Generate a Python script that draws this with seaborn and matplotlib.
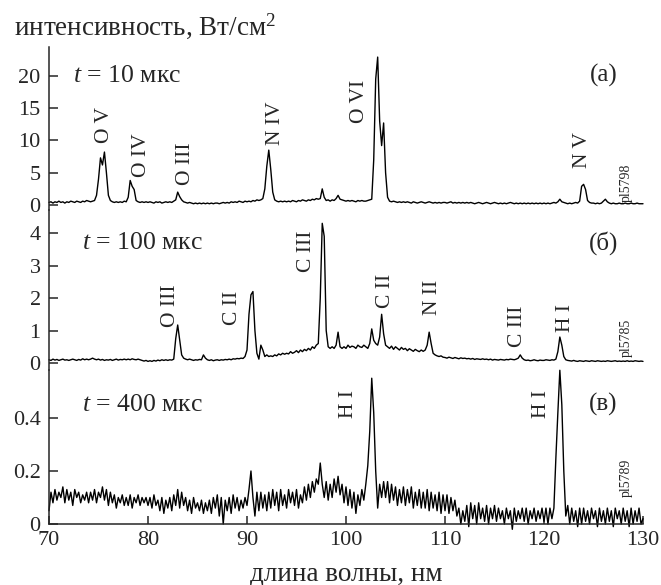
import numpy as np
import pandas as pd
import matplotlib
matplotlib.use("Agg")
import matplotlib.pyplot as plt
import seaborn as sns

# длины волн, шаг 0.2 нм
wl = np.round(np.arange(70.0, 130.01, 0.2), 1)

# t = 10 мкс
int_a = [
    0.4, 0.5, 0.3, 0.5, 0.4, 0.6, 0.4, 0.5, 0.3, 0.5,
    0.4, 0.6, 0.5, 0.4, 0.6, 0.5, 0.4, 0.6, 0.5, 0.7,
    0.6, 0.5, 0.6, 0.7, 1.5, 4.0, 7.3, 6.2, 8.2, 5.0,
    1.5, 0.7, 0.5, 0.4, 0.5, 0.4, 0.5, 0.4, 0.6, 0.5,
    1.2, 3.8, 2.9, 2.4, 0.7, 0.5, 0.4, 0.5, 0.4, 0.5,
    0.4, 0.5, 0.4, 0.3, 0.5, 0.4, 0.5, 0.3, 0.4, 0.5,
    0.4, 0.5, 0.4, 0.6, 0.8, 2.0, 1.3, 0.8, 0.5, 0.4,
    0.3, 0.4, 0.3, 0.2, 0.3, 0.2, 0.3, 0.2, 0.3, 0.2,
    0.3, 0.2, 0.3, 0.2, 0.3, 0.3, 0.2, 0.3, 0.4, 0.3,
    0.4, 0.3, 0.5, 0.4, 0.5, 0.4, 0.6, 0.5, 0.4, 0.6,
    0.5, 0.6, 0.5, 0.7, 0.6, 0.8, 0.7, 0.8, 1.0, 2.5,
    6.0, 8.5, 5.5, 2.0, 0.8, 0.6, 0.5, 0.6, 0.5, 0.6,
    0.5, 0.6, 0.5, 0.7, 0.6, 0.5, 0.7, 0.6, 0.8, 0.7,
    0.6, 0.8, 0.7, 0.9, 0.8, 1.0, 0.9, 1.0, 2.5, 1.2,
    0.7, 0.8, 0.6, 0.8, 0.7, 1.0, 1.5, 0.9, 0.8, 0.7,
    0.6, 0.7, 0.6, 0.7, 0.6, 0.5, 0.7, 0.6, 0.7, 0.6,
    0.6, 0.7, 0.8, 0.9, 7.0, 19.5, 22.9, 13.0, 9.2, 12.7,
    5.0, 1.2, 0.6, 0.5, 0.6, 0.5, 0.4, 0.5, 0.4, 0.5,
    0.4, 0.5, 0.4, 0.3, 0.5, 0.4, 0.3, 0.4, 0.5, 0.4,
    0.3, 0.4, 0.5, 0.4, 0.3, 0.4, 0.3, 0.4, 0.3, 0.4,
    0.4, 0.3, 0.4, 0.5, 0.3, 0.4, 0.3, 0.4, 0.3, 0.4,
    0.3, 0.4, 0.3, 0.4, 0.3, 0.2, 0.3, 0.4, 0.3, 0.2,
    0.3, 0.4, 0.3, 0.2, 0.3, 0.4, 0.3, 0.2, 0.3, 0.2,
    0.3, 0.2, 0.3, 0.4, 0.3, 0.2, 0.3, 0.2, 0.3, 0.2,
    0.3, 0.2, 0.3, 0.2, 0.3, 0.2, 0.3, 0.2, 0.3, 0.2,
    0.3, 0.2, 0.3, 0.2, 0.3, 0.4, 0.3, 0.5, 0.9, 0.5,
    0.4, 0.3, 0.2, 0.3, 0.2, 0.3, 0.4, 0.3, 0.6, 2.9,
    3.2, 2.4, 0.7, 0.4, 0.3, 0.3, 0.2, 0.3, 0.2, 0.3,
    0.6, 0.9, 0.5, 0.3, 0.2, 0.3, 0.2, 0.2, 0.3, 0.2,
    0.2, 0.3, 0.2, 0.2, 0.3, 0.2, 0.2, 0.3, 0.2, 0.2,
    0.2,
]

# t = 100 мкс
int_b = [
    0.10, 0.08, 0.12, 0.09, 0.11, 0.08, 0.10, 0.12, 0.09, 0.10,
    0.08, 0.10, 0.12, 0.10, 0.08, 0.11, 0.09, 0.13, 0.10, 0.12,
    0.10, 0.12, 0.15, 0.12, 0.10, 0.12, 0.09, 0.11, 0.08, 0.10,
    0.09, 0.11, 0.08, 0.10, 0.12, 0.09, 0.11, 0.10, 0.12, 0.10,
    0.12, 0.10, 0.13, 0.11, 0.10, 0.12, 0.10, 0.08, 0.06, 0.08,
    0.05, 0.07, 0.05, 0.08, 0.06, 0.09, 0.07, 0.10, 0.08, 0.10,
    0.08, 0.10, 0.09, 0.12, 0.75, 1.17, 0.70, 0.25, 0.15, 0.12,
    0.10, 0.12, 0.10, 0.08, 0.10, 0.09, 0.11, 0.10, 0.25, 0.15,
    0.10, 0.08, 0.10, 0.07, 0.09, 0.10, 0.08, 0.10, 0.09, 0.11,
    0.10, 0.12, 0.10, 0.13, 0.12, 0.14, 0.13, 0.15, 0.14, 0.20,
    0.40, 1.50, 2.10, 2.20, 1.00, 0.30, 0.12, 0.55, 0.40, 0.20,
    0.25, 0.20, 0.22, 0.20, 0.25, 0.22, 0.28, 0.25, 0.30, 0.27,
    0.30, 0.28, 0.35, 0.30, 0.33, 0.38, 0.32, 0.40, 0.35, 0.42,
    0.38, 0.45, 0.40, 0.50, 0.45, 0.55, 0.60, 2.00, 4.30, 3.90,
    1.00, 0.50, 0.45, 0.50, 0.45, 0.55, 0.95, 0.50, 0.45, 0.50,
    0.45, 0.55, 0.48, 0.52, 0.50, 0.45, 0.55, 0.50, 0.48, 0.55,
    0.50, 0.45, 0.60, 1.05, 0.70, 0.60, 0.55, 0.80, 1.50, 0.90,
    0.55, 0.50, 0.45, 0.52, 0.42, 0.50, 0.45, 0.40, 0.48, 0.42,
    0.45, 0.38, 0.44, 0.40, 0.36, 0.42, 0.38, 0.35, 0.40, 0.36,
    0.40, 0.55, 0.95, 0.60, 0.30, 0.25, 0.22, 0.20, 0.22, 0.18,
    0.17, 0.15, 0.18, 0.16, 0.14, 0.17, 0.15, 0.13, 0.16, 0.14,
    0.15, 0.13, 0.14, 0.12, 0.14, 0.11, 0.13, 0.12, 0.11, 0.13,
    0.11, 0.12, 0.10, 0.12, 0.09, 0.11, 0.10, 0.09, 0.11, 0.10,
    0.09, 0.11, 0.10, 0.12, 0.11, 0.10, 0.12, 0.15, 0.25, 0.15,
    0.10, 0.08, 0.09, 0.07, 0.08, 0.10, 0.08, 0.07, 0.09, 0.08,
    0.08, 0.10, 0.09, 0.08, 0.10, 0.09, 0.12, 0.35, 0.80, 0.55,
    0.20, 0.10, 0.08, 0.07, 0.06, 0.08, 0.06, 0.05, 0.07, 0.06,
    0.05, 0.07, 0.06, 0.05, 0.07, 0.06, 0.05, 0.07, 0.06, 0.05,
    0.06, 0.05, 0.07, 0.06, 0.05, 0.06, 0.07, 0.05, 0.06, 0.05,
    0.06, 0.05, 0.07, 0.05, 0.06, 0.05, 0.07, 0.06, 0.05, 0.06,
    0.05,
]

# t = 400 мкс
int_c = [
    0.05, 0.12, 0.08, 0.13, 0.09, 0.12, 0.10, 0.14, 0.08, 0.13,
    0.09, 0.12, 0.07, 0.13, 0.10, 0.12, 0.08, 0.11, 0.09, 0.12,
    0.08, 0.12, 0.09, 0.13, 0.08, 0.12, 0.10, 0.14, 0.09, 0.13,
    0.07, 0.12, 0.08, 0.11, 0.06, 0.10, 0.08, 0.11, 0.07, 0.10,
    0.07, 0.11, 0.06, 0.10, 0.08, 0.11, 0.07, 0.10, 0.08, 0.10,
    0.07, 0.10, 0.06, 0.11, 0.07, 0.09, 0.05, 0.10, 0.04, 0.09,
    0.06, 0.10, 0.05, 0.11, 0.07, 0.13, 0.06, 0.12, 0.07, 0.10,
    0.05, 0.09, 0.04, 0.10, 0.06, 0.08, 0.05, 0.09, 0.04, 0.08,
    0.05, 0.09, 0.04, 0.10, 0.06, 0.11, 0.03, 0.10, 0.00, 0.09,
    0.05, 0.10, 0.04, 0.11, 0.06, 0.10, 0.05, 0.09, 0.06, 0.10,
    0.07, 0.13, 0.20, 0.10, 0.03, 0.12, 0.05, 0.12, 0.06, 0.11,
    0.05, 0.12, 0.06, 0.13, 0.07, 0.12, 0.05, 0.13, 0.07, 0.11,
    0.06, 0.13, 0.08, 0.12, 0.07, 0.13, 0.06, 0.11, 0.08, 0.14,
    0.09, 0.15, 0.10, 0.16, 0.12, 0.17, 0.15, 0.23, 0.15, 0.10,
    0.16, 0.09, 0.15, 0.10, 0.17, 0.12, 0.18, 0.11, 0.15, 0.08,
    0.14, 0.07, 0.13, 0.06, 0.12, 0.04, 0.11, 0.07, 0.13, 0.09,
    0.15, 0.22, 0.35, 0.55, 0.42, 0.20, 0.06, 0.15, 0.10, 0.16,
    0.10, 0.16, 0.08, 0.15, 0.09, 0.14, 0.07, 0.13, 0.08, 0.14,
    0.07, 0.13, 0.08, 0.14, 0.06, 0.12, 0.07, 0.13, 0.06, 0.12,
    0.06, 0.13, 0.05, 0.12, 0.06, 0.11, 0.05, 0.12, 0.04, 0.11,
    0.05, 0.11, 0.04, 0.10, 0.05, 0.09, 0.03, 0.06, 0.00, 0.05,
    0.01, 0.07, -0.01, 0.08, 0.02, 0.07, 0.00, 0.08, 0.02, 0.06,
    0.01, 0.07, 0.00, 0.06, 0.02, 0.07, 0.01, 0.06, 0.02, 0.05,
    0.00, 0.06, 0.02, 0.05, -0.02, 0.06, 0.01, 0.05, 0.02, 0.06,
    0.01, 0.06, 0.00, 0.05, 0.02, 0.06, 0.01, 0.05, 0.02, 0.06,
    0.01, 0.06, 0.00, 0.06, 0.02, 0.06, 0.25, 0.42, 0.58, 0.45,
    0.20, 0.03, 0.07, 0.00, 0.06, 0.01, 0.05, -0.01, 0.06, 0.00,
    0.06, 0.01, 0.05, 0.00, 0.06, 0.02, 0.05, -0.01, 0.06, 0.01,
    0.05, 0.00, 0.06, 0.01, 0.05, -0.01, 0.06, 0.02, 0.05, 0.00,
    0.06, 0.01, 0.05, -0.01, 0.06, 0.00, 0.05, 0.01, 0.06, 0.00,
    0.02,
]

# подписи линий
lines_a = ['O V', 'O IV', 'O III', 'N IV', 'O VI', 'N V']
lab_x_a = [75.6, 79.3, 83.8, 92.9, 101.4, 123.9]
lab_y_a = [9.6, 4.3, 3.1, 9.3, 12.7, 5.7]

lines_b = ['O III', 'C II', 'C III', 'C II', 'N II', 'C III', 'H I']
lab_x_b = [82.3, 88.5, 96.0, 104.0, 108.7, 117.3, 122.2]
lab_y_b = [1.1, 1.17, 2.8, 1.7, 1.48, 0.5, 0.95]

lines_c = ['H I', 'H I']
lab_x_c = [100.3, 119.7]
lab_y_c = [0.40, 0.40]

times = ['10', '100', '400']
time_x = [72.4, 73.3, 73.3]
time_y = [20, 3.7, 0.45]
letters = ['(а)', '(б)', '(в)']
shots = ['pl5798', 'pl5785', 'pl5789']
shot_y = [0.45, 0.17, 0.10]

sns.set_theme(style="ticks")
plt.rcParams['font.family'] = ['Liberation Serif', 'DejaVu Serif']
plt.rcParams['mathtext.fontset'] = 'custom'
plt.rcParams['mathtext.rm'] = 'Liberation Serif'
plt.rcParams['mathtext.it'] = 'Liberation Serif:italic'

fig = plt.figure(figsize=(6.61, 5.85), dpi=100)
L, W = 49 / 661, 594 / 661
ax_a = fig.add_axes([L, 1 - 210 / 585, W, 163 / 585])
ax_b = fig.add_axes([L, 1 - 370 / 585, W, 160 / 585])
ax_c = fig.add_axes([L, 1 - 524 / 585, W, 154 / 585])
axes = [ax_a, ax_b, ax_c]

series = [int_a, int_b, int_c]
ylims = [(-0.77, 24.46), (-0.215, 4.71), (0, 0.581)]
yticks = [[0, 5, 10, 15, 20], [0, 1, 2, 3, 4], [0, 0.2, 0.4]]
yticklabels = [['0', '5', '10', '15', '20'], ['0', '1', '2', '3', '4'], ['0', '0.2', '0.4']]
labels = [(lines_a, lab_x_a, lab_y_a), (lines_b, lab_x_b, lab_y_b), (lines_c, lab_x_c, lab_y_c)]

for i, ax in enumerate(axes):
    df = pd.DataFrame({'wl': wl, 'I': series[i]})
    sns.lineplot(data=df, x='wl', y='I', ax=ax, color='black', lw=1.0, estimator=None)
    ax.lines[-1].set_clip_on(False)
    ax.set_xlim(70, 130)
    ax.set_ylim(*ylims[i])
    ax.set_yticks(yticks[i])
    ax.set_yticklabels(yticklabels[i])
    ax.set_ylabel('')
    ax.set_xlabel('')
    for s in ['top', 'right']:
        ax.spines[s].set_visible(False)
    ax.spines['left'].set_linewidth(1.1)
    ax.spines['bottom'].set_linewidth(1.1)
    ax.tick_params(axis='y', direction='in', length=6.5, width=1.1, labelsize=16, pad=6)
    ax.patch.set_alpha(0)
    ax.text(time_x[i], time_y[i], '$t$ = ' + times[i] + ' мкс', fontsize=18.5, va='center', ha='left')
    ax.text(126.0, time_y[i], letters[i], fontsize=18, va='center', ha='center')
    ax.text(128.3, shot_y[i], shots[i], rotation=90, fontsize=10, ha='center', va='bottom')
    names, lx, ly = labels[i]
    for n, x, y in zip(names, lx, ly):
        ax.text(x, y, n, rotation=90, fontsize=15.5, ha='center', va='bottom')

for ax in [ax_a, ax_b]:
    ax.spines['bottom'].set_visible(False)
    ax.tick_params(axis='x', bottom=False, labelbottom=False)

ax_c.set_xticks([70, 80, 90, 100, 110, 120, 130])
ax_c.tick_params(axis='x', direction='in', length=6, width=1.1, labelsize=16, pad=5)

fig.text(346 / 661, 1 - 580 / 585, 'длина волны, нм', fontsize=19.5, ha='center', va='baseline')
fig.text(14 / 661, 1 - 35 / 585, 'интенсивность, Вт/см$^2$', fontsize=19.5, ha='left', va='baseline')

fig.savefig('out.png', dpi=100)
